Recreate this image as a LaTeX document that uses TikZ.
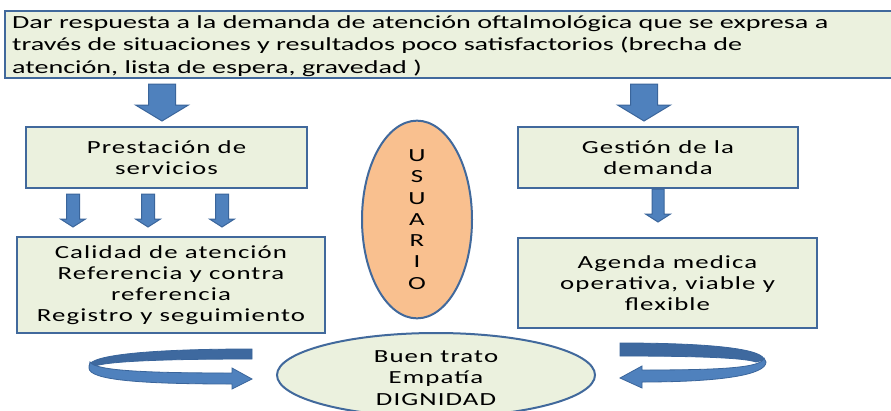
\documentclass[tikz,border=0pt]{standalone}
\usepackage{fontspec}
\setmainfont{Carlito}[FakeStretch=1.52]
\newfontfamily\widefont{Carlito}[FakeStretch=1.45,LetterSpace=6]
\usetikzlibrary{calc, shapes.geometric}
\definecolor{boxfill}{HTML}{EBF1DE}
\definecolor{boxline}{HTML}{41699C}
\definecolor{arrowfill}{HTML}{4F81BD}
\definecolor{arrowline}{HTML}{3A659B}
\definecolor{backband}{HTML}{3E699F}
\definecolor{userfill}{HTML}{F9C08F}

% block arrow pointing down: start, end, half shaft, half head, head length
\newcommand{\fatdown}[5]{%
  \filldraw[fill=arrowfill,draw=arrowline,line width=1pt]
    let \p1=#1, \p2=#2 in
    (\x2-#3,\y1) -- (\x2+#3,\y1) -- (\x2+#3,\y2+#5) -- (\x2+#4,\y2+#5)
    -- (\x2,\y2) -- (\x2-#4,\y2+#5) -- (\x2-#3,\y2+#5) -- cycle;}

\begin{document}
\begin{tikzpicture}[x=1pt,y=-1pt,
    box/.style={draw=boxline,line width=2pt,fill=boxfill,align=center,
      font=\widefont\fontsize{18.5}{21}\selectfont},
    oval/.style={ellipse,draw=boxline,line width=2pt,inner sep=0pt,align=center,
      font=\widefont\fontsize{18.5}{21.5}\selectfont}]
  \clip (0,0) rectangle (891,410);
  \fill[white] (0,0) rectangle (891,410);

  \node[draw=boxline,line width=2pt,fill=boxfill,anchor=north west,
    minimum width=900,minimum height=67,inner sep=0pt] (top) at (4,10) {};
  \node[anchor=west,align=left,inner sep=0pt,font=\fontsize{18.5}{22.5}\selectfont]
    (toptext) at (12,46) {Dar respuesta a la demanda de atención oftalmológica que se expresa a\\
    través de situaciones y resultados poco satisfactorios (brecha de\\
    atención, lista de espera, gravedad )};

  \node[box,minimum width=281,minimum height=61] (prest) at (166.5,157.5) {Prestación de\\servicios};
  \node[box,minimum width=280,minimum height=61] (gest) at (658,157.5) {Gestión de la\\demanda};
  \node[box,minimum width=308,minimum height=96] (cal) at (171,285)
    {Calidad de atención\\Referencia y contra\\referencia\\Registro y seguimiento};
  \node[box,minimum width=299,minimum height=90] (agenda) at (667.5,283)
    {Agenda medica\\operativa, viable y\\flexible};
  \node[oval,fill=userfill,minimum width=110,minimum height=185,
    font=\widefont\fontsize{18.5}{21.3}\selectfont] (usuario) at (417,219.5)
    {U\\S\\U\\A\\R\\I\\O};
  \node[oval,fill=boxfill,minimum width=318,minimum height=84] (buen) at (436,375) {};
  \node[align=center,inner sep=0pt,font=\widefont\fontsize{18.5}{21.5}\selectfont]
    (buentext) at (436,378) {Buen trato\\Empatía\\DIGNIDAD};

  % block arrows
  \fatdown{($(top.south -| prest.north)+(-4.5,5)$)}{($(prest.north)+(-4.5,-5)$)}{13.5pt}{26.5pt}{16pt}
  \fatdown{($(top.south -| gest.north)+(-14,5)$)}{($(gest.north)+(-14,-5)$)}{13.5pt}{26.5pt}{16pt}
  \foreach \dx in {-93.5,-18.5,55.5}{
    \fatdown{($(prest.south)+(\dx,5)$)}{($(cal.north -| prest.south)+(\dx,-9)$)}{6.5pt}{12.5pt}{8pt}
  }
  \fatdown{(gest.south)}{($(agenda.north -| gest.south)+(0,-15)$)}{6pt}{12.5pt}{8pt}

  % turning arrows
  \filldraw[fill=backband,draw=arrowline,line width=0.8pt]
    (252,349) .. controls (150,349) and (89,355) .. (89,366)
    -- (95,366) .. controls (110,361) and (170,359) .. (252,359) -- cycle;
  \filldraw[fill=arrowfill,draw=arrowline,line width=0.8pt]
    (90,362) .. controls (95,371) and (150,373) .. (232,373) -- (232,368) -- (252,379)
    -- (232,389) -- (232,384) .. controls (140,384) and (89,380) .. (89,368) -- cycle;
  \filldraw[fill=backband,draw=arrowline,line width=0.8pt]
    (620,343) .. controls (720,343) and (764,350) .. (764,360)
    -- (756,362) .. controls (745,358) and (700,356) .. (620,356) -- cycle;
  \filldraw[fill=arrowfill,draw=arrowline,line width=0.8pt]
    (764,358) .. controls (762,368) and (720,370) .. (642,370) -- (642,366) -- (620,378)
    -- (642,388) -- (642,382) .. controls (720,382) and (766,375) .. (766,362) -- cycle;
\end{tikzpicture}
\end{document}
